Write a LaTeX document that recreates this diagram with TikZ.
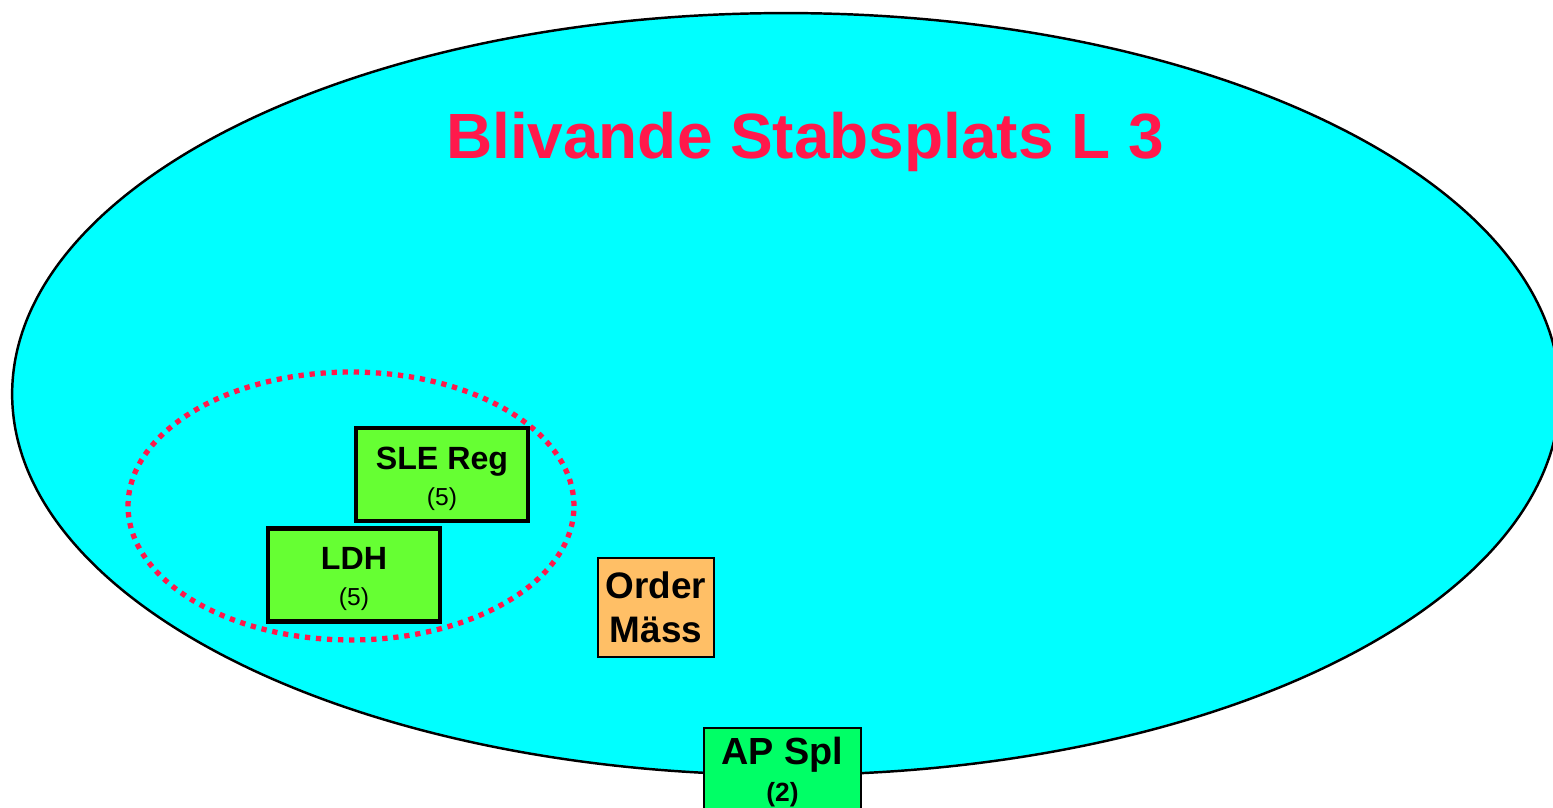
\documentclass[tikz,border=0pt]{standalone}
\usepackage{fontspec}
\setmainfont{Liberation Sans}
\usepackage{tikz}
\usetikzlibrary{positioning}

\definecolor{stabcyan}{RGB}{0,255,255}
\definecolor{titlered}{RGB}{255,25,75}
\definecolor{unitgreen}{RGB}{102,255,51}
\definecolor{apgreen}{RGB}{0,255,102}
\definecolor{orderorange}{RGB}{255,191,102}

\tikzset{
    unitbox/.style={draw, line width=2.3pt, fill=unitgreen, inner sep=0pt,
        minimum width=3.44cm, minimum height=1.86cm, align=center,
        font=\fontsize{14}{20.5}\selectfont},
    thinbox/.style={draw, line width=1.1pt, inner sep=0pt, align=center}
}
\newcommand{\unitname}[1]{{\fontsize{18.3}{20.5}\selectfont\bfseries\rule{0pt}{17.6pt}#1}}

\begin{document}
\begin{tikzpicture}[x=0.02cm, y=-0.02cm]
    \useasboundingbox (0,0) rectangle (1553,808);
    % the stab place
    \draw[line width=1.4pt, fill=stabcyan] (786,394) ellipse [x radius=15.48cm, y radius=7.62cm];
    \node[text=titlered, font=\fontsize{36.4}{40}\selectfont\bfseries] (title) at (805,142) {Blivande Stabsplats L 3};
    % group round the two units
    \draw[titlered, line width=3pt, dash pattern=on 3pt off 3.3pt] (351,506) ellipse [x radius=4.46cm, y radius=2.68cm];
    \node[unitbox] (sle) at (442,474.5) {\unitname{SLE Reg}\\(5)};
    \node[unitbox] (ldh) at (354,575) {\unitname{LDH}\\(5)};
    \node[thinbox, fill=orderorange, minimum width=2.32cm, minimum height=1.98cm,
        font=\fontsize{21}{25}\selectfont\bfseries] (order) at (656,607.5) {Order\\M\"ass};
    \node[thinbox, fill=apgreen, minimum width=3.14cm, minimum height=1.76cm,
        font=\fontsize{15}{21.5}\selectfont\bfseries, anchor=north] (apspl) at (782.5,727) {{\fontsize{21.5}{22}\selectfont AP Spl}\\(2)};
\end{tikzpicture}
\end{document}
